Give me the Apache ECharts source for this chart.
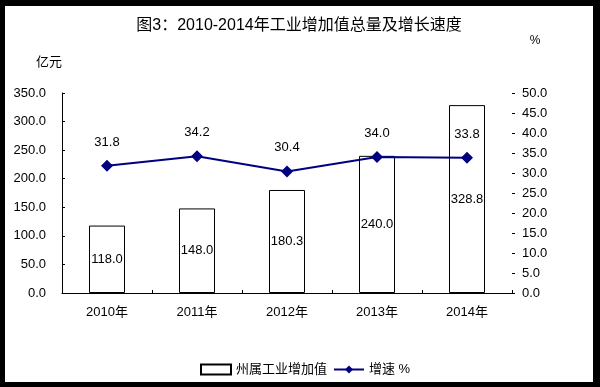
<!DOCTYPE html>
<html>
<head>
<meta charset="utf-8">
<script src="https://cdn.jsdelivr.net/npm/echarts@6/dist/echarts.min.js"></script>
<style>
  html, body { margin: 0; padding: 0; }
  #wrap { position: relative; width: 600px; height: 387px; background: #000; }
  #chart { position: absolute; left: 5px; top: 6px; width: 588px; height: 376px; background: #fff; }
</style>
</head>
<body>
<div id="wrap"><div id="chart"></div></div>
<script>
const titleText = '图3：2010-2014年工业增加值总量及增长速度';
const categories = ['2010年', '2011年', '2012年', '2013年', '2014年'];
const valueAdded = [118.0, 148.0, 180.3, 240.0, 328.8];
const growthRate = [31.8, 34.2, 30.4, 34.0, 33.8];
const barName = '州属工业增加值';
const lineName = '增速 %';
const leftAxisName = '亿元';
const rightAxisName = '%';
const leftAxisRange = [0, 350, 50];
const rightAxisRange = [0, 50, 5];

const numFont = "'Liberation Sans', Arial, 'Noto Sans CJK SC', sans-serif";
const chart = echarts.init(document.getElementById('chart'), null, { renderer: 'canvas' });

chart.setOption({
  animation: false,
  backgroundColor: '#fff',
  title: {
    text: titleText,
    left: 'center',
    top: 12,
    padding: 0,
    textStyle: { fontSize: 16, fontWeight: 'normal', color: '#000', fontFamily: numFont }
  },
  legend: {
    left: 195,
    top: 357,
    padding: 0,
    itemGap: 6,
    itemWidth: 30,
    itemHeight: 10,
    textStyle: { fontSize: 13, color: '#000', fontFamily: numFont },
    data: [{ name: barName, icon: 'rect' }, { name: lineName }]
  },
  grid: { left: 57, top: 87, width: 450, height: 200, containLabel: false },
  xAxis: {
    type: 'category',
    data: categories,
    boundaryGap: true,
    axisLine: { show: true, lineStyle: { color: '#000', width: 1 } },
    axisTick: { show: true, inside: true, length: 3, lineStyle: { color: '#000' } },
    axisLabel: { color: '#000', fontSize: 13, margin: 13, fontFamily: numFont },
    splitLine: { show: false }
  },
  yAxis: [
    {
      type: 'value',
      min: leftAxisRange[0], max: leftAxisRange[1], interval: leftAxisRange[2],
      name: leftAxisName,
      nameLocation: 'end',
      nameGap: 24,
      nameTextStyle: { color: '#000', fontSize: 13, fontFamily: numFont, padding: [0, 26, 0, 0] },
      axisLine: { show: true, lineStyle: { color: '#000', width: 1 } },
      axisTick: { show: true, inside: true, length: 3, lineStyle: { color: '#000' } },
      axisLabel: { color: '#000', fontSize: 13, margin: 16, fontFamily: numFont, formatter: v => v.toFixed(1) },
      splitLine: { show: false }
    },
    {
      type: 'value',
      position: 'right',
      min: rightAxisRange[0], max: rightAxisRange[1], interval: rightAxisRange[2],
      name: rightAxisName,
      nameLocation: 'end',
      nameGap: 46,
      nameTextStyle: { color: '#000', fontSize: 12, fontFamily: numFont, padding: [0, 0, 0, 46] },
      axisLine: { show: false },
      axisTick: { show: true, inside: false, length: 3, lineStyle: { color: '#000' } },
      axisLabel: { color: '#000', fontSize: 13, margin: 10, fontFamily: numFont, formatter: v => v.toFixed(1) },
      splitLine: { show: false }
    }
  ],
  series: [
    {
      name: barName,
      type: 'bar',
      yAxisIndex: 0,
      data: valueAdded,
      barWidth: 36,
      itemStyle: { color: '#fff', borderColor: '#000', borderWidth: 1 },
      label: {
        show: true, position: 'inside', color: '#000', fontSize: 13, fontFamily: numFont,
        formatter: p => p.value.toFixed(1)
      },
      z: 2
    },
    {
      name: lineName,
      type: 'line',
      yAxisIndex: 1,
      data: growthRate,
      symbol: 'diamond',
      symbolSize: 12,
      lineStyle: { color: '#000080', width: 2 },
      itemStyle: { color: '#000080' },
      label: {
        show: true, position: 'top', distance: 11, color: '#000', fontSize: 13, fontFamily: numFont,
        formatter: p => p.value.toFixed(1)
      },
      z: 3
    }
  ]
});
</script>
</body>
</html>
